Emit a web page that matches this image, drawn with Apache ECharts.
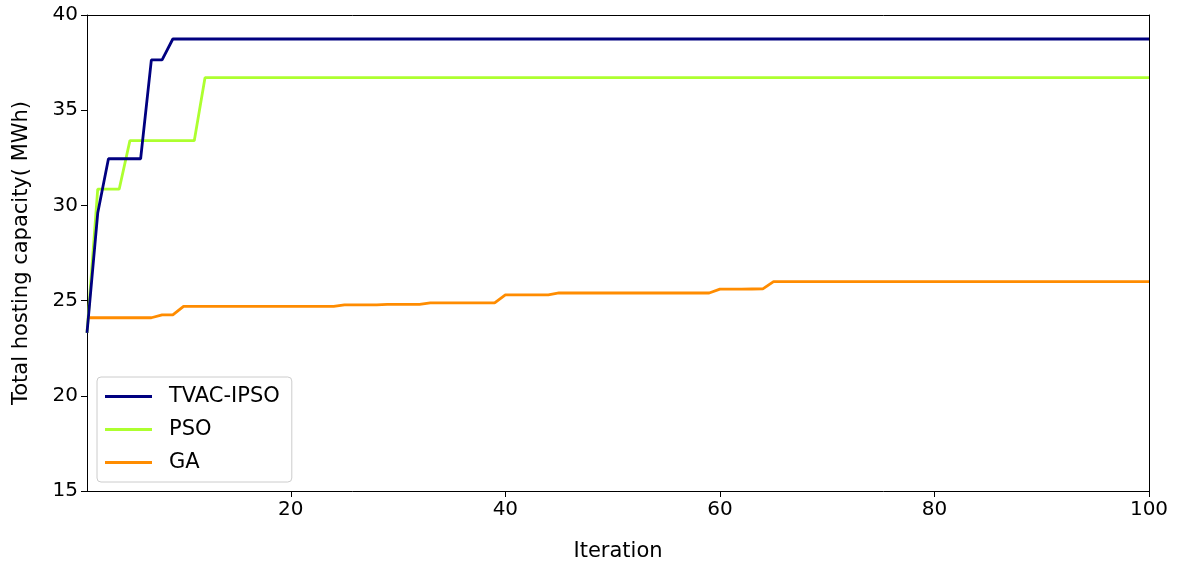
<!DOCTYPE html>
<html><head><meta charset="utf-8">
<script src="https://cdn.jsdelivr.net/npm/echarts@6/dist/echarts.min.js"></script>
<style>html,body{margin:0;padding:0;background:#fff}#c{width:1177px;height:565px}</style>
</head><body><div id="c"></div>
<script>
const iterations = [1,2,3,4,5,6,7,8,9,10,11,12,13,14,15,16,17,18,19,20,21,22,23,24,25,26,27,28,29,30,31,32,33,34,35,36,37,38,39,40,41,42,43,44,45,46,47,48,49,50,51,52,53,54,55,56,57,58,59,60,61,62,63,64,65,66,67,68,69,70,71,72,73,74,75,76,77,78,79,80,81,82,83,84,85,86,87,88,89,90,91,92,93,94,95,96,97,98,99,100];
const tvacIpso = [23.3,29.6,32.45,32.45,32.45,32.45,37.64,37.64,38.74,38.74,
38.74,38.74,38.74,38.74,38.74,38.74,38.74,38.74,38.74,38.74,
38.74,38.74,38.74,38.74,38.74,38.74,38.74,38.74,38.74,38.74,
38.74,38.74,38.74,38.74,38.74,38.74,38.74,38.74,38.74,38.74,
38.74,38.74,38.74,38.74,38.74,38.74,38.74,38.74,38.74,38.74,
38.74,38.74,38.74,38.74,38.74,38.74,38.74,38.74,38.74,38.74,
38.74,38.74,38.74,38.74,38.74,38.74,38.74,38.74,38.74,38.74,
38.74,38.74,38.74,38.74,38.74,38.74,38.74,38.74,38.74,38.74,
38.74,38.74,38.74,38.74,38.74,38.74,38.74,38.74,38.74,38.74,
38.74,38.74,38.74,38.74,38.74,38.74,38.74,38.74,38.74,38.74];
const pso = [23.3,30.85,30.85,30.85,33.4,33.4,33.4,33.4,33.4,33.4,
33.4,36.71,36.71,36.71,36.71,36.71,36.71,36.71,36.71,36.71,
36.71,36.71,36.71,36.71,36.71,36.71,36.71,36.71,36.71,36.71,
36.71,36.71,36.71,36.71,36.71,36.71,36.71,36.71,36.71,36.71,
36.71,36.71,36.71,36.71,36.71,36.71,36.71,36.71,36.71,36.71,
36.71,36.71,36.71,36.71,36.71,36.71,36.71,36.71,36.71,36.71,
36.71,36.71,36.71,36.71,36.71,36.71,36.71,36.71,36.71,36.71,
36.71,36.71,36.71,36.71,36.71,36.71,36.71,36.71,36.71,36.71,
36.71,36.71,36.71,36.71,36.71,36.71,36.71,36.71,36.71,36.71,
36.71,36.71,36.71,36.71,36.71,36.71,36.71,36.71,36.71,36.71];
const ga = [24.1,24.1,24.1,24.1,24.1,24.1,24.1,24.25,24.25,24.7,
24.7,24.7,24.7,24.7,24.7,24.7,24.7,24.7,24.7,24.7,
24.7,24.7,24.7,24.7,24.78,24.78,24.78,24.78,24.8,24.8,
24.8,24.8,24.88,24.88,24.88,24.88,24.88,24.88,24.88,25.3,
25.3,25.3,25.3,25.3,25.4,25.4,25.4,25.4,25.4,25.4,
25.4,25.4,25.4,25.4,25.4,25.4,25.4,25.4,25.4,25.6,
25.6,25.6,25.61,25.62,26.0,26.0,26.0,26.0,26.0,26.0,
26.0,26.0,26.0,26.0,26.0,26.0,26.0,26.0,26.0,26.0,
26.0,26.0,26.0,26.0,26.0,26.0,26.0,26.0,26.0,26.0,
26.0,26.0,26.0,26.0,26.0,26.0,26.0,26.0,26.0,26.0];
const xTicks = [20,40,60,80,100];
const yTicks = [15,20,25,30,35,40];
const seriesNames = ['TVAC-IPSO','PSO','GA'];
const colors = ['#000080','#ADFF2F','#FF8C00'];

const font = 'DejaVu Sans';
const pair = arr => iterations.map((x,i)=>[x,arr[i]]);
const chart = echarts.init(document.getElementById('c'), null, {renderer:'canvas'});
const axLine = {show:true, lineStyle:{color:'#000', width:1}};
chart.setOption({
  animation:false,
  grid:{left:87, right:28, top:15, bottom:74, containLabel:false, outerBoundsMode:'none'},
  legend:{
    orient:'vertical', left:97, top:377,
    padding:[9,12,9,8], itemGap:12, itemWidth:47, itemHeight:22,
    backgroundColor:'rgba(255,255,255,0.8)', borderColor:'#cccccc', borderWidth:1, borderRadius:4,
    textStyle:{fontFamily:font, fontSize:21, color:'#000', padding:[0,0,0,12]},
    data: seriesNames.map(n=>({name:n, icon:'path://M0,0 L47,0 L47,3 L0,3 Z'}))
  },
  xAxis:[{
    type:'value', min:1, max:100, position:'bottom',
    name:'Iteration', nameLocation:'middle', nameGap:50,
    nameTextStyle:{fontFamily:font, fontSize:21, color:'#000'},
    axisLine:axLine,
    axisTick:{show:true, inside:false, length:6, customValues:xTicks, lineStyle:{color:'#000'}},
    axisLabel:{customValues:xTicks, fontFamily:font, fontSize:20, color:'#000', margin:9},
    splitLine:{show:false}
  },{
    type:'value', min:1, max:100, position:'top',
    axisLine:axLine, axisTick:{show:false}, axisLabel:{show:false}, splitLine:{show:false}
  }],
  yAxis:[{
    type:'value', min:15, max:40, interval:5, position:'left',
    name:'Total hosting capacity( MWh)', nameLocation:'middle', nameGap:55,
    nameTextStyle:{fontFamily:font, fontSize:21, color:'#000'},
    axisLine:axLine,
    axisTick:{show:true, inside:false, length:6, lineStyle:{color:'#000'}},
    axisLabel:{fontFamily:font, fontSize:20, color:'#000', margin:9},
    splitLine:{show:false}
  },{
    type:'value', min:15, max:40, position:'right',
    axisLine:axLine, axisTick:{show:false}, axisLabel:{show:false}, splitLine:{show:false}
  }],
  series: [tvacIpso, pso, ga].map((arr,k)=>({
    name:seriesNames[k], type:'line', data:pair(arr), showSymbol:false, symbol:'none',
    lineStyle:{color:colors[k], width:2.8}, itemStyle:{color:colors[k]}, z:3-k
  }))
});
</script></body></html>
